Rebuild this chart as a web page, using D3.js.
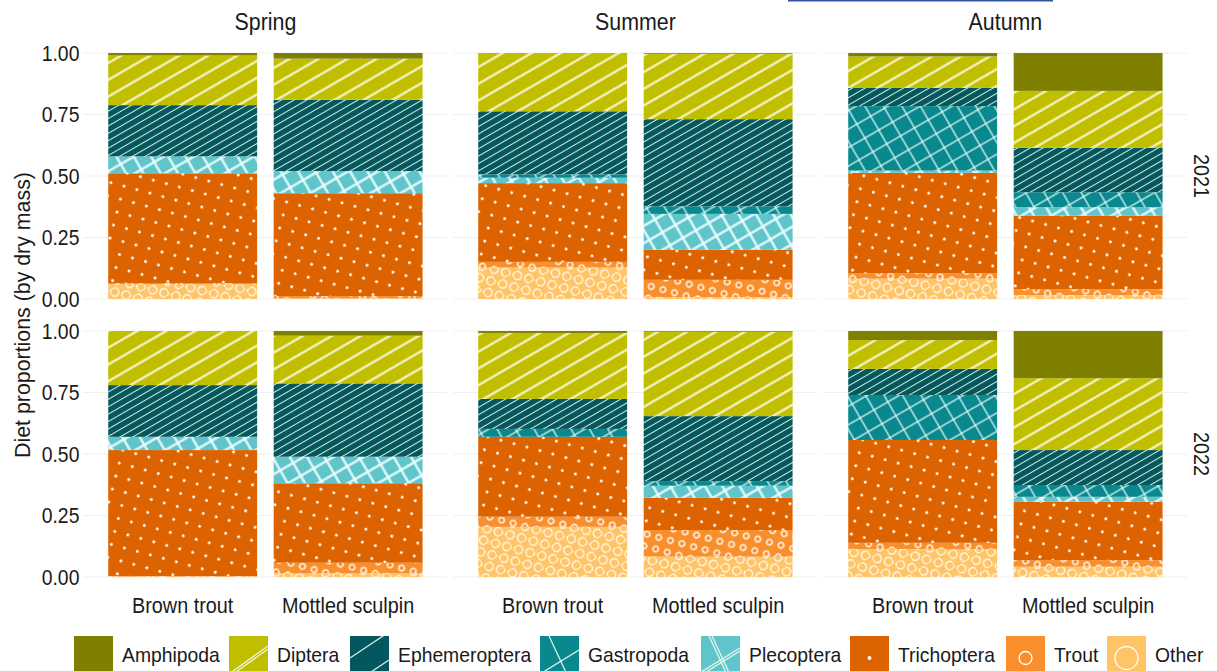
<!DOCTYPE html>
<html>
<head>
<meta charset="utf-8">
<script src="https://cdn.jsdelivr.net/npm/d3@7"></script>
<style>
  body { margin: 0; background: #fff; }
  svg text { font-family: "Liberation Sans", Arial, sans-serif; fill: #1a1a1a; }
</style>
</head>
<body>
<div id="chart"></div>
<script>
// facets and categories
var years = ["2021", "2022"];
var seasons = ["Spring", "Summer", "Autumn"];
var fish = ["Brown trout", "Mottled sculpin"];
var taxa = ["Amphipoda", "Diptera", "Ephemeroptera", "Gastropoda", "Plecoptera", "Trichoptera", "Trout", "Other"];
var yTicks = [0, 0.25, 0.5, 0.75, 1];

// diet proportions, order: 2021 Spring BT, Spring MS, Summer BT, Summer MS, Autumn BT, Autumn MS, then same for 2022
var amphipoda     = [0.010, 0.023, 0.000, 0.003, 0.014, 0.154, 0.000, 0.019, 0.008, 0.003, 0.037, 0.192];
var diptera       = [0.202, 0.167, 0.237, 0.266, 0.128, 0.231, 0.220, 0.194, 0.268, 0.343, 0.117, 0.292];
var ephemeroptera = [0.208, 0.290, 0.256, 0.354, 0.074, 0.181, 0.210, 0.298, 0.122, 0.264, 0.106, 0.142];
var gastropoda    = [0.000, 0.000, 0.014, 0.031, 0.262, 0.061, 0.000, 0.000, 0.032, 0.019, 0.183, 0.048];
var plecoptera    = [0.069, 0.090, 0.022, 0.146, 0.009, 0.034, 0.054, 0.108, 0.000, 0.049, 0.000, 0.020];
var trichoptera   = [0.446, 0.418, 0.320, 0.122, 0.408, 0.299, 0.512, 0.323, 0.325, 0.131, 0.418, 0.237];
var trout         = [0.005, 0.009, 0.023, 0.070, 0.022, 0.024, 0.002, 0.043, 0.041, 0.108, 0.025, 0.027];
var other         = [0.060, 0.003, 0.128, 0.008, 0.083, 0.016, 0.002, 0.015, 0.204, 0.083, 0.114, 0.042];

var colors = {
  Amphipoda: "#7f8000", Diptera: "#bfbf00", Ephemeroptera: "#02585e", Gastropoda: "#09898e",
  Plecoptera: "#5fc5cb", Trichoptera: "#dc6300", Trout: "#f98f2c", Other: "#ffc466"
};

// build rows for stacking
var series = {Amphipoda: amphipoda, Diptera: diptera, Ephemeroptera: ephemeroptera, Gastropoda: gastropoda,
              Plecoptera: plecoptera, Trichoptera: trichoptera, Trout: trout, Other: other};
var rows = [];
years.forEach(function(yr, yi) {
  seasons.forEach(function(se, si) {
    fish.forEach(function(f, fi) {
      var i = yi * 6 + si * 2 + fi;
      var r = {year: yr, season: se, fish: f};
      taxa.forEach(function(t) { r[t] = series[t][i]; });
      rows.push(r);
    });
  });
});

var W = 1217, H = 671;
var panelLeft = 83.4, panelW = 364, panelGap = 6;
var rowTop = [53, 331], panelH = 246;

var svg = d3.select("#chart").append("svg")
    .attr("width", W).attr("height", H);

// squeeze text horizontally so it looks like the condensed face of the original
function condense(sel, k) {
  sel.each(function() {
    var w = this.getComputedTextLength();
    d3.select(this).attr("textLength", w * k).attr("lengthAdjust", "spacingAndGlyphs");
  });
}

// patterns
var defs = svg.append("defs");
function stripe(id, size, sw, angle, bg) {
  var p = defs.append("pattern").attr("id", id).attr("patternUnits", "userSpaceOnUse")
      .attr("width", size).attr("height", size).attr("patternTransform", "rotate(" + angle + ")");
  p.append("rect").attr("width", size).attr("height", size).attr("fill", bg);
  p.append("line").attr("x1", 0).attr("x2", size).attr("y1", size / 2).attr("y2", size / 2)
      .attr("stroke", "#fbfbe8").attr("stroke-width", sw).attr("stroke-opacity", 0.9);
}
function cross(id, size, sw, angle, bg) {
  var p = defs.append("pattern").attr("id", id).attr("patternUnits", "userSpaceOnUse")
      .attr("width", size).attr("height", size).attr("patternTransform", "rotate(" + angle + ")");
  p.append("rect").attr("width", size).attr("height", size).attr("fill", bg);
  p.append("line").attr("x1", 0).attr("x2", size).attr("y1", size / 2).attr("y2", size / 2)
      .attr("stroke", "#f2ffff").attr("stroke-width", sw).attr("stroke-opacity", 0.9);
  p.append("line").attr("y1", 0).attr("y2", size).attr("x1", size / 2).attr("x2", size / 2)
      .attr("stroke", "#f2ffff").attr("stroke-width", sw).attr("stroke-opacity", 0.9);
}
function dots(id, size, r, ring, angle, bg) {
  var p = defs.append("pattern").attr("id", id).attr("patternUnits", "userSpaceOnUse")
      .attr("width", size).attr("height", size).attr("patternTransform", "rotate(" + angle + ")");
  p.append("rect").attr("width", size).attr("height", size).attr("fill", bg);
  [[size / 4, size / 4], [size * 3 / 4, size * 3 / 4]].forEach(function(c) {
    var el = p.append("circle").attr("cx", c[0]).attr("cy", c[1]).attr("r", r);
    if (ring) el.attr("fill", "none").attr("stroke", "#fff").attr("stroke-width", 1.4).attr("stroke-opacity", 0.9);
    else el.attr("fill", "#fff");
  });
}
stripe("p-Diptera", 14.5, 2.2, -30, colors.Diptera);
stripe("p-Ephemeroptera", 6.4, 1, -30, colors.Ephemeroptera);
cross("p-Gastropoda", 16, 1.3, -30, colors.Gastropoda);
cross("p-Plecoptera", 15, 2.4, -30, colors.Plecoptera);
dots("p-Trichoptera", 19, 1.4, false, -30, colors.Trichoptera);
dots("p-Trout", 17, 2.8, true, -30, colors.Trout);
dots("p-Other", 17, 4.2, true, -30, colors.Other);

function fillOf(t) { return t === "Amphipoda" ? colors.Amphipoda : "url(#p-" + t + ")"; }

var stackKeys = taxa.slice().reverse();   // Other at the bottom
var stack = d3.stack().keys(stackKeys);

years.forEach(function(yr, yi) {
  var y = d3.scaleLinear().domain([0, 1]).range([rowTop[yi] + panelH, rowTop[yi]]);

  seasons.forEach(function(se, si) {
    var x0 = panelLeft + si * (panelW + panelGap);
    var x = d3.scaleBand().domain(fish).range([x0, x0 + panelW])
        .paddingInner(0.1).paddingOuter(0.15);
    var g = svg.append("g");

    // grid lines
    g.selectAll(".grid").data(yTicks).enter().append("line")
        .attr("x1", x0).attr("x2", x0 + panelW)
        .attr("y1", d => y(d)).attr("y2", d => y(d))
        .attr("stroke", "#ebebeb").attr("stroke-width", 0.8);

    var data = rows.filter(r => r.year === yr && r.season === se);
    var layers = stack(data);
    layers.forEach(function(layer) {
      g.selectAll(null).data(layer).enter().append("rect")
          .attr("x", d => x(d.data.fish))
          .attr("width", x.bandwidth())
          .attr("y", d => y(d[1]))
          .attr("height", d => Math.max(0, y(d[0]) - y(d[1])))
          .attr("fill", fillOf(layer.key));
    });

    // x axis labels only on the bottom row
    if (yi === years.length - 1) {
      var ax = svg.append("g").attr("transform", "translate(0," + (rowTop[yi] + panelH + 4) + ")")
          .call(d3.axisBottom(x).tickSize(0).tickPadding(16));
      ax.select(".domain").remove();
      ax.selectAll("text").attr("font-size", 22).style("fill", "#1a1a1a")
          .style("font-family", "'Liberation Sans', Arial, sans-serif")
          .call(condense, 0.9);
    }

    // season strip on top row
    if (yi === 0) {
      svg.append("text").attr("x", x0 + panelW / 2).attr("y", 30)
          .attr("text-anchor", "middle").attr("font-size", 23).text(se)
          .call(condense, 0.93);
    }
  });

  // y axis on the left
  var ay = svg.append("g").attr("transform", "translate(" + panelLeft + ",0)")
      .call(d3.axisLeft(y).tickValues(yTicks).tickFormat(d3.format(".2f")).tickSize(0).tickPadding(4));
  ay.select(".domain").remove();
  ay.selectAll("text").attr("font-size", 22).style("fill", "#1a1a1a")
      .style("font-family", "'Liberation Sans', Arial, sans-serif")
      .call(condense, 0.88);

  // year strip on the right
  var sx = panelLeft + 3 * panelW + 2 * panelGap + 14;
  var sy = rowTop[yi] + panelH / 2;
  svg.append("text").attr("transform", "translate(" + sx + "," + sy + ") rotate(90)")
      .attr("text-anchor", "middle").attr("dy", "0.35em").attr("font-size", 22).text(yr)
      .call(condense, 0.9);
});

// y title
svg.append("text").attr("transform", "translate(22," + ((rowTop[0] + rowTop[1] + panelH) / 2) + ") rotate(-90)")
    .attr("text-anchor", "middle").attr("dy", "0.35em").attr("font-size", 22)
    .text("Diet proportions (by dry mass)")
    .call(condense, 0.97);

// legend
var legendX = [74, 229, 350, 540, 701, 850, 1006, 1107];
var keyW = 39, keyTop = 636, keyH = 42;
var lg = svg.append("g");
taxa.forEach(function(t, i) {
  var kx = legendX[i];
  var k = lg.append("g").attr("transform", "translate(" + kx + "," + keyTop + ")");
  k.append("clipPath").attr("id", "clip-" + t).append("rect").attr("width", keyW).attr("height", keyH);
  var kk = k.append("g").attr("clip-path", "url(#clip-" + t + ")");
  kk.append("rect").attr("width", keyW).attr("height", keyH).attr("fill", colors[t]);
  var cx = keyW / 2, cy = 22;
  var ln = function(x1, y1, x2, y2, w) {
    kk.append("line").attr("x1", x1).attr("y1", y1).attr("x2", x2).attr("y2", y2)
        .attr("stroke", "#f4fbf0").attr("stroke-width", w).attr("stroke-opacity", 0.9);
  };
  if (t === "Diptera") { ln(0, 38, 39, 10, 1.3); ln(0, 41, 39, 13, 1.3); }
  if (t === "Ephemeroptera") { ln(0, 22, 39, -4, 1.3); ln(6, 46, 39, 24, 1.3); }
  if (t === "Gastropoda") { ln(0, 38, 39, 14, 1.3); ln(9, 0, 30, 45, 1.3); }
  if (t === "Plecoptera") { ln(0, 36, 39, 12, 1.3); ln(0, 39, 39, 15, 1.3); ln(8, 0, 29, 45, 1.3); ln(11, 0, 32, 45, 1.3); }
  if (t === "Trichoptera") kk.append("circle").attr("cx", cx).attr("cy", cy).attr("r", 2).attr("fill", "#fff");
  if (t === "Trout") kk.append("circle").attr("cx", cx).attr("cy", cy).attr("r", 6.5).attr("fill", "none").attr("stroke", "#fff").attr("stroke-width", 1.3);
  if (t === "Other") kk.append("circle").attr("cx", cx).attr("cy", cy).attr("r", 11.5).attr("fill", "none").attr("stroke", "#fff").attr("stroke-width", 1.3);
  lg.append("text").attr("x", kx + keyW + 9).attr("y", 655).attr("dy", "0.35em")
      .attr("font-size", 21).text(t)
      .call(condense, 0.92);
});

// thin blue rule at the very top of the picture
svg.append("line").attr("x1", 788).attr("x2", 1053).attr("y1", 0.8).attr("y2", 0.8)
    .attr("stroke", "#2f55a4").attr("stroke-width", 1.6);
</script>
</body>
</html>
